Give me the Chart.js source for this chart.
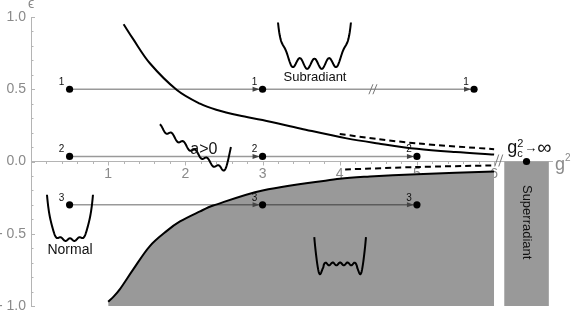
<!DOCTYPE html>
<html>
<head>
<meta charset="utf-8">
<script src="https://cdn.jsdelivr.net/npm/chart.js@4"></script>
<style>
  html, body { margin: 0; padding: 0; background: #fff; }
  canvas { display: block; }
</style>
</head>
<body>
<canvas id="chart" width="571" height="310"></canvas>
<script>
// ---------- data ----------
const xTickLabels = ["1", "2", "3", "4", "5", "6"];
const yTickLabels = ["- 1.0", "- 0.5", "0.0", "0.5", "1.0"];

// upper (subradiant) boundary
const upperX = [1.2, 1.32, 1.54, 1.89, 2.19, 2.4, 2.7, 3.0, 3.5, 4.09, 4.5, 5.0, 5.5, 6.0];
const upperY = [0.95, 0.85, 0.68, 0.495, 0.40, 0.358, 0.318, 0.287, 0.227, 0.16, 0.125, 0.088, 0.065, 0.048];
// lower boundary, shaded below
const lowerX = [1.0, 1.07, 1.15, 1.32, 1.54, 1.76, 1.93, 2.19, 2.36, 3.0, 4.0, 4.39, 5.0, 6.0];
const lowerY = [-0.97, -0.935, -0.885, -0.75, -0.585, -0.48, -0.415, -0.345, -0.305, -0.20, -0.12, -0.104, -0.088, -0.07];
// dashed asymptotes
const dashUpX = [4.0, 4.5, 5.0, 6.0];
const dashUpY = [0.19, 0.155, 0.125, 0.085];
const dashLoX = [4.07, 5.0, 6.0];
const dashLoY = [-0.055, -0.038, -0.027];
// quench trajectories 1,2,3
const trajNames = ["1", "2", "3"];
const trajY = [0.5, 0.035, -0.3];
const trajX = [[0.5, 3, 5.74], [0.5, 3, 5.0], [0.5, 3, 5.0]];
const trajBreakX = 4.43;
// superradiant block (g_c^2 -> infinity)
const superX = [6.13, 6.71];
const superTop = 0;
const critX = 6.42;
const critY = 0;

// ---------- look ----------
const AXIS = "#b4b4b4";
const TICKTXT = "#8a8a8a";
const SHADE = "#999999";
const FONT = "'Liberation Sans', Arial, sans-serif";

const pts = (xs, ys) => xs.map((v, i) => ({ x: v, y: ys[i] }));

// inset potential wells (decoration), shape v(t) on t in [-1,1]
const wiggle = (t, k) => 0.5 + 0.5 * Math.cos(k * Math.PI * t);
const insets = [
  { box: [3.20, 4.145, 0.962, 0.641], f: (t) => Math.pow(t, 8) + 0.24 * wiggle(t, 5) + 0.08 * t * t },
  { box: [1.67, 2.59, 0.258, -0.063], f: (t) => 0.9 * Math.pow((1 - t) / 2, 1.1) + 6 * Math.pow(Math.max(0, t - 0.72), 2) + 0.09 * wiggle(t, 6) },
  { box: [0.207, 0.803, -0.23, -0.55], f: (t) => Math.pow(t, 6) + 0.07 * wiggle(t, 5) + 0.12 * t * t },
  { box: [3.67, 4.34, -0.523, -0.78], f: (t) => Math.pow(t, 10) + 0.4 - 0.4 * Math.exp(-Math.pow((Math.abs(t) - 0.8) / 0.12, 2)) + 0.1 * wiggle(t, 7) * (Math.abs(t) < 0.65 ? 1 : 0) }
];

// ---------- datasets ----------
const datasets = [
  {
    data: pts(lowerX, lowerY), borderColor: "#000", borderWidth: 2, order: 10,
    backgroundColor: SHADE, fill: "start", pointRadius: 0, tension: 0.35
  },
  {
    data: pts(superX, superX.map(() => superTop)), borderWidth: 0, borderColor: SHADE, order: 10,
    backgroundColor: SHADE, fill: "start", pointRadius: 0
  },
  {
    data: pts(upperX, upperY), borderColor: "#000", borderWidth: 2, order: 5,
    fill: false, pointRadius: 0, tension: 0.35
  },
  {
    data: pts(dashUpX, dashUpY), borderColor: "#000", borderWidth: 2, borderDash: [6, 4], order: 5,
    fill: false, pointRadius: 0, tension: 0.3
  },
  {
    data: pts(dashLoX, dashLoY), borderColor: "#000", borderWidth: 2, borderDash: [6, 4], order: 5,
    fill: false, pointRadius: 0, tension: 0.3
  }
];
trajX.forEach((xs, i) => {
  datasets.push({
    data: xs.map((v) => ({ x: v, y: trajY[i] })), borderColor: "rgba(0,0,0,0.4)", borderWidth: 1.5,
    fill: false, pointRadius: 0, order: 2
  });
});
datasets.push({
  data: trajX.flatMap((xs, i) => xs.map((v) => ({ x: v, y: trajY[i] }))).concat([{ x: critX, y: critY }]),
  showLine: false, pointRadius: 3.6, pointBackgroundColor: "#000", pointBorderWidth: 0, order: 1
});

// ---------- decorations ----------
const decor = {
  id: "decor",
  afterDatasetsDraw(chart) {
    const { ctx, scales: { x, y } } = chart;
    const x0 = x.getPixelForValue(0), y0 = y.getPixelForValue(0);
    ctx.save();

    // minor/major ticks (inside, Mathematica style)
    ctx.strokeStyle = AXIS; ctx.lineWidth = 1;
    ctx.beginPath();
    for (let i = -10; i <= 10; i++) {
      const py = Math.round(y.getPixelForValue(i / 10)) + 0.5;
      ctx.moveTo(x0, py); ctx.lineTo(x0 + (i % 5 === 0 ? 4 : 2.5), py);
    }
    for (let i = 1; i <= 30; i++) {
      const px = Math.round(x.getPixelForValue(i / 5)) + 0.5;
      ctx.moveTo(px, y0); ctx.lineTo(px, y0 + (i % 5 === 0 ? 4 : 2.5));
    }
    ctx.stroke();

    // axis break marks
    const brk = (px, py, h) => {
      ctx.strokeStyle = "#777"; ctx.lineWidth = 1;
      ctx.beginPath();
      [-2, 2].forEach((d) => { ctx.moveTo(px + d - 2, py + h); ctx.lineTo(px + d + 2, py - h); });
      ctx.stroke();
    };
    brk(x.getPixelForValue(6.06), y0 - 1, 6);
    brk(x.getPixelForValue(trajBreakX), y.getPixelForValue(trajY[0]), 5);

    // arrow heads + labels on trajectories
    trajX.forEach((xs, i) => {
      const py = y.getPixelForValue(trajY[i]);
      xs.forEach((v, j) => {
        const px = x.getPixelForValue(v);
        if (j > 0) {
          ctx.fillStyle = "#444";
          ctx.beginPath();
          ctx.moveTo(px - 3, py); ctx.lineTo(px - 10, py - 2.5); ctx.lineTo(px - 10, py + 2.5);
          ctx.closePath(); ctx.fill();
        }
        ctx.fillStyle = "#111"; ctx.font = "10px " + FONT;
        ctx.textAlign = "center"; ctx.textBaseline = "middle";
        ctx.fillText(trajNames[i], px - 8, py - 7);
      });
    });

    // inset wells
    ctx.strokeStyle = "#000"; ctx.lineWidth = 2; ctx.lineJoin = "round";
    insets.forEach(({ box, f }) => {
      const N = 120, vs = [];
      for (let k = 0; k <= N; k++) vs.push(f(-1 + 2 * k / N));
      const lo = Math.min(...vs), hi = Math.max(...vs);
      const L = x.getPixelForValue(box[0]), R = x.getPixelForValue(box[1]);
      const T = y.getPixelForValue(box[2]), B = y.getPixelForValue(box[3]);
      ctx.beginPath();
      vs.forEach((v, k) => {
        const px = L + (R - L) * k / N;
        const py = B - (B - T) * (v - lo) / (hi - lo);
        k ? ctx.lineTo(px, py) : ctx.moveTo(px, py);
      });
      ctx.stroke();
    });

    // texts
    ctx.fillStyle = "#111"; ctx.textAlign = "center"; ctx.textBaseline = "alphabetic";
    ctx.font = "13px " + FONT;
    ctx.fillText("Subradiant", x.getPixelForValue(3.68), y.getPixelForValue(0.5) - 8);
    ctx.font = "14px " + FONT;
    ctx.fillText("Normal", x.getPixelForValue(0.505), y.getPixelForValue(-0.64));
    ctx.font = "16px " + FONT;
    ctx.fillText("a>0", x.getPixelForValue(2.24), y.getPixelForValue(0.055));

    ctx.save();
    ctx.translate(x.getPixelForValue((superX[0] + superX[1]) / 2), y.getPixelForValue(-0.42));
    ctx.rotate(Math.PI / 2);
    ctx.font = "13px " + FONT; ctx.textBaseline = "middle";
    ctx.fillText("Superradiant", 0, 0);
    ctx.restore();

    // g_c^2 -> infinity
    const gx = x.getPixelForValue(superX[0]) + 3, gy = y0 - 9;
    ctx.textAlign = "left"; ctx.textBaseline = "alphabetic"; ctx.fillStyle = "#111";
    ctx.font = "18px " + FONT; ctx.fillText("g", gx, gy);
    ctx.font = "11px " + FONT;
    ctx.fillText("2", gx + 10, gy - 6);
    ctx.fillText("c", gx + 10, gy + 4);
    ctx.font = "13px " + FONT; ctx.fillText("\u2192", gx + 17, gy - 1);
    ctx.font = "20px " + FONT; ctx.fillText("\u221e", gx + 30, gy + 1);

    // axis names
    ctx.fillStyle = TICKTXT;
    ctx.font = "18px " + FONT;
    ctx.fillText("g", x.right + 3, y0 + 8);
    ctx.font = "10px " + FONT;
    ctx.fillText("2", x.right + 13, y0 - 1);
    ctx.font = "14px " + FONT; ctx.textAlign = "center";
    ctx.fillText("\u03f5", x0, 8);

    ctx.restore();
  }
};

// ---------- chart ----------
new Chart(document.getElementById("chart").getContext("2d"), {
  type: "line",
  data: { datasets },
  plugins: [decor],
  options: {
    responsive: false,
    animation: false,
    layout: { padding: { top: 17, right: 19, bottom: 4, left: 0 } },
    plugins: { legend: { display: false }, tooltip: { enabled: false } },
    scales: {
      x: {
        type: "linear", min: 0, max: 6.75, position: { y: 0 }, z: 1,
        afterFit: (s) => { s.height = 0; s.paddingLeft = 0; s.paddingRight = 0; s.paddingTop = 0; s.paddingBottom = 0; },
        grid: { display: false, drawTicks: false },
        border: { color: AXIS },
        ticks: {
          stepSize: 1, padding: 4, color: TICKTXT, font: { size: 14, family: FONT },
          maxRotation: 0, autoSkip: false,
          callback: (v) => (v >= 1 && v <= 6 ? xTickLabels[v - 1] : "")
        }
      },
      y: {
        type: "linear", min: -1, max: 1, position: "left",
        afterFit: (s) => { s.width = 31; s.paddingTop = 0; s.paddingBottom = 0; },
        grid: { display: false, drawTicks: false },
        border: { color: AXIS },
        ticks: {
          stepSize: 0.5, padding: 5, color: TICKTXT, font: { size: 14, family: FONT },
          callback: (v) => yTickLabels[Math.round((v + 1) * 2)]
        }
      }
    }
  }
});
</script>
</body>
</html>
